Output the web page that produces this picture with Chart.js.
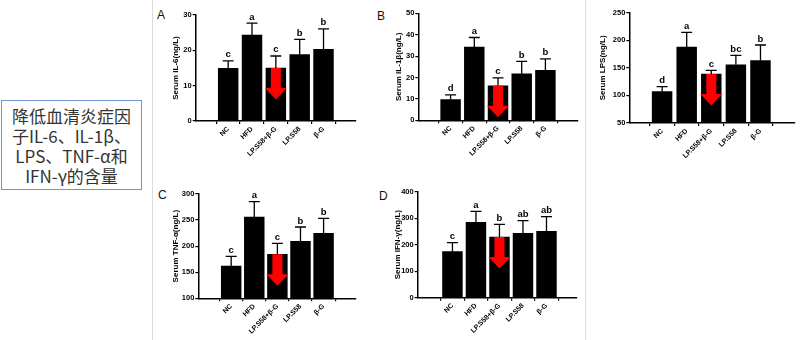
<!DOCTYPE html>
<html>
<head>
<meta charset="utf-8">
<script src="https://cdn.jsdelivr.net/npm/chart.js@4/dist/chart.umd.min.js"></script>
<style>
  html, body { margin: 0; padding: 0; background: #fff; }
  body { position: relative; width: 800px; height: 340px; overflow: hidden; }
  canvas { position: absolute; }
  .sep { position: absolute; top: 0; width: 1px; height: 340px; background: #dcdcdc; }
  .tag { position: absolute; font: 12px "Liberation Sans", Arial, sans-serif; line-height: 12px; color: #111; }
  #note {
    position: absolute; left: 1px; top: 100px; width: 141px; height: 90px;
    box-sizing: border-box; border: 1px solid #7393d4; padding-top: 5px;
    font-family: "Noto Sans CJK SC", sans-serif; font-size: 17px; line-height: 20px;
    text-align: center; color: #333; white-space: nowrap;
  }
</style>
</head>
<body>
<div class="sep" style="left:152px"></div>
<div class="sep" style="left:585px"></div>
<div id="note">降低血清炎症因<br>子IL-6、IL-1β、<br>LPS、TNF-α和<br>IFN-γ的含量</div>
<div class="tag" style="left:157px;top:9px">A</div>
<div class="tag" style="left:377px;top:10px">B</div>
<div class="tag" style="left:158px;top:189px">C</div>
<div class="tag" style="left:379px;top:190px">D</div>

<canvas id="cA" width="205" height="170" style="left:155px;top:0px"></canvas>
<canvas id="cB" width="202" height="170" style="left:380px;top:0px"></canvas>
<canvas id="cL" width="212" height="170" style="left:588px;top:0px"></canvas>
<canvas id="cC" width="205" height="170" style="left:155px;top:170px"></canvas>
<canvas id="cD" width="202" height="170" style="left:380px;top:170px"></canvas>

<script>
// Treatment groups
const groups = ['NC', 'HFD', 'LP.S58+β-G', 'LP.S58', 'β-G'];

// Serum IL-6 (ng/L): mean, SD, significance letters
const il6Mean = [14.9, 24.3, 15.0, 18.8, 20.3];
const il6Sd = [2.1, 3.4, 3.4, 4.3, 5.8];
const il6Sig = ['c', 'a', 'c', 'b', 'b'];

// Serum IL-1β (ng/L)
const il1bMean = [9.7, 34.2, 16.1, 21.7, 23.3];
const il1bSd = [2.2, 4.5, 3.7, 5.8, 5.4];
const il1bSig = ['d', 'a', 'c', 'b', 'b'];

// Serum LPS (ng/L)
const lpsMean = [106.8, 187.8, 138.8, 155.7, 163.0];
const lpsSd = [9.1, 26.5, 6.7, 17.0, 28.4];
const lpsSig = ['d', 'a', 'c', 'bc', 'b'];

// Serum TNF-α (ng/L)
const tnfMean = [162.0, 255.9, 184.3, 209.3, 224.6];
const tnfSd = [18.5, 29.4, 21.1, 27.4, 28.8];
const tnfSig = ['c', 'a', 'c', 'b', 'b'];

// Serum IFN-γ (ng/L)
const ifnMean = [173.6, 284.3, 228.9, 242.8, 250.3];
const ifnSd = [33.9, 41.5, 47.8, 47.8, 55.4];
const ifnSig = ['c', 'a', 'b', 'ab', 'ab'];

const FONT = '"Liberation Sans", Arial, sans-serif';

// Error bars, significance letters and the highlight arrow on the combined group
const barMarks = {
  id: 'barMarks',
  afterDatasetsDraw(chart, args, opts) {
    const ctx = chart.ctx;
    const yScale = chart.scales.y;
    const bars = chart.getDatasetMeta(0).data;
    ctx.save();
    ctx.strokeStyle = '#000';
    ctx.fillStyle = '#000';
    ctx.lineWidth = 1.3;
    ctx.font = 'bold 9.5px ' + FONT;
    ctx.textAlign = 'center';
    ctx.textBaseline = 'alphabetic';
    bars.forEach((bar, i) => {
      const top = yScale.getPixelForValue(opts.mean[i] + opts.sd[i]);
      ctx.beginPath();
      ctx.moveTo(bar.x, bar.y);
      ctx.lineTo(bar.x, top);
      ctx.moveTo(bar.x - 5.5, top);
      ctx.lineTo(bar.x + 5.5, top);
      ctx.stroke();
      ctx.fillText(opts.sig[i], bar.x, top - 3.5);
    });
    const b = bars[opts.arrowAt];
    const x = b.x, t = b.y;
    ctx.fillStyle = '#ff0000';
    ctx.beginPath();
    ctx.moveTo(x - 5, t);
    ctx.lineTo(x + 5, t);
    ctx.lineTo(x + 5, t + 20);
    ctx.lineTo(x + 11, t + 20);
    ctx.lineTo(x, t + 31.5);
    ctx.lineTo(x - 11, t + 20);
    ctx.lineTo(x - 5, t + 20);
    ctx.closePath();
    ctx.fill();
    ctx.restore();
  }
};

function panel(id, box, area, title, titleX, mean, sd, sig, yMin, yMax, yStep, xMin, xMax) {
  const padTop = area.t - box.y;
  const padRight = box.x + box.w - area.r;
  const yWidth = area.l - box.x;
  const xHeight = box.y + box.h - area.b;
  const titleLH = 8 * 1.2;
  new Chart(document.getElementById(id), {
    type: 'bar',
    data: {
      datasets: [{
        data: mean.map((v, i) => ({ x: i, y: v })),
        backgroundColor: '#000',
        borderColor: '#000',
        borderWidth: 0,
        barThickness: 19.8
      }]
    },
    options: {
      responsive: false,
      animation: false,
      events: [],
      layout: { padding: { left: 0, top: padTop, right: padRight, bottom: 0 } },
      plugins: {
        legend: { display: false },
        tooltip: { enabled: false },
        barMarks: { mean: mean, sd: sd, sig: sig, arrowAt: 2 }
      },
      scales: {
        x: {
          type: 'linear',
          min: xMin,
          max: xMax,
          afterBuildTicks: s => { s.ticks = groups.map((g, i) => ({ value: i })); },
          afterFit: s => { s.height = xHeight; },
          grid: { display: true, drawOnChartArea: false, drawTicks: true, tickLength: 3, color: '#000', lineWidth: 1.2 },
          border: { display: true, color: '#000', width: 1.5 },
          ticks: {
            autoSkip: false, minRotation: 45, maxRotation: 45, padding: 1,
            color: '#000', font: { family: FONT, size: 7, weight: 'bold' },
            callback: v => groups[v]
          }
        },
        y: {
          min: yMin,
          max: yMax,
          afterFit: s => { s.width = yWidth; },
          grid: { display: true, drawOnChartArea: false, drawTicks: true, tickLength: 3, color: '#000', lineWidth: 1.2 },
          border: { display: true, color: '#000', width: 1.5 },
          ticks: { stepSize: yStep, padding: 1, color: '#000', font: { family: FONT, size: 7.5, weight: 'bold' } },
          title: {
            display: true, text: title, color: '#000',
            font: { family: FONT, size: 8, weight: 'bold' },
            padding: { top: titleX - box.x - titleLH / 2, bottom: 0 }
          }
        }
      }
    },
    plugins: [barMarks]
  });
}

panel('cA', { x: 155, y: 0, w: 205, h: 170 }, { l: 195.7, t: 15, r: 356, b: 121 },
  'Serum IL-6(ng/L)', 175.5, il6Mean, il6Sd, il6Sig, 0, 30, 10, -0.69, 4.69);
panel('cB', { x: 380, y: 0, w: 202, h: 170 }, { l: 418.3, t: 13.3, r: 577.7, b: 120.3 },
  'Serum IL-1β(ng/L)', 399, il1bMean, il1bSd, il1bSig, 0, 50, 10, -0.69, 4.69);
panel('cL', { x: 588, y: 0, w: 212, h: 170 }, { l: 629.3, t: 12.7, r: 795, b: 123 },
  'Serum LPS(ng/L)', 603, lpsMean, lpsSd, lpsSig, 50, 250, 50, -0.66, 4.73);
panel('cC', { x: 155, y: 170, w: 205, h: 170 }, { l: 198.3, t: 194, r: 356, b: 298.3 },
  'Serum TNF-α(ng/L)', 176, tnfMean, tnfSd, tnfSig, 100, 300, 50, -0.74, 4.72);
panel('cD', { x: 380, y: 170, w: 202, h: 170 }, { l: 417.7, t: 191.7, r: 577, b: 297.7 },
  'Serum IFN-γ(ng/L)', 398, ifnMean, ifnSd, ifnSig, 0, 400, 100, -0.8, 4.62);
</script>
</body>
</html>
